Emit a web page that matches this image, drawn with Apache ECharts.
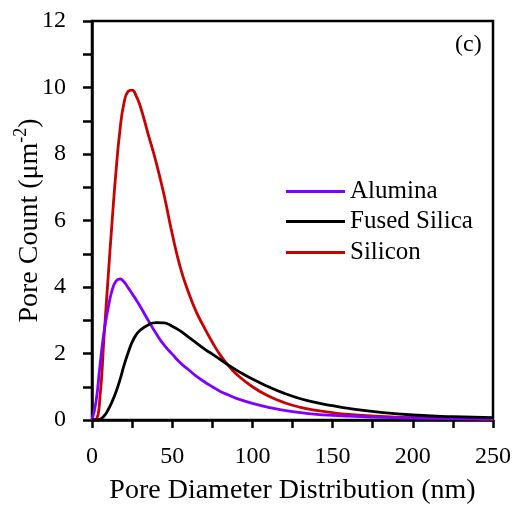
<!DOCTYPE html>
<html>
<head>
<meta charset="utf-8">
<script src="https://cdn.jsdelivr.net/npm/echarts@6/dist/echarts.min.js"></script>
<style>html,body{margin:0;padding:0;background:#fff;}#c{width:516px;height:514px;}</style>
</head>
<body>
<div id="c"></div>
<script>
const diameters = [0,2.5,5,7.5,10,12.5,15,17.5,20,22.5,25,27.5,30,35,40,45,50,55,60,65,70,75,80,85,90,100,110,120,130,140,150,160,180,200,225,250];
const alumina = [0,0.55,1.65,2.65,3.35,3.9,4.18,4.24,4.15,3.98,3.8,3.62,3.42,3.0,2.6,2.25,1.98,1.72,1.52,1.32,1.15,1.0,0.86,0.75,0.65,0.5,0.38,0.29,0.22,0.17,0.14,0.12,0.08,0.06,0.04,0.03];
const fusedSilica = [0,0,0.02,0.12,0.3,0.55,0.85,1.22,1.65,2.02,2.34,2.56,2.7,2.86,2.93,2.92,2.82,2.68,2.5,2.32,2.14,1.98,1.82,1.65,1.5,1.23,1.0,0.8,0.64,0.52,0.43,0.35,0.23,0.15,0.1,0.07];
const silicon = [0,0.02,0.7,2.5,4.25,5.95,7.5,8.75,9.55,9.88,9.92,9.75,9.45,8.6,7.75,6.75,5.6,4.6,3.86,3.25,2.78,2.34,1.95,1.64,1.38,1.0,0.72,0.52,0.38,0.29,0.22,0.17,0.11,0.07,0.04,0.02];
const seriesNames = ['Alumina','Fused Silica','Silicon'];
const xTicks = [0,50,100,150,200,250];
const yTicks = [0,2,4,6,8,10,12];

const FONT = 'Liberation Serif';
const pair = ys => diameters.map((x,i)=>[x, ys[i]]);
const colors = {'Alumina':'#7F00FF','Fused Silica':'#000000','Silicon':'#CC0000'};
const dataMap = {'Alumina':alumina,'Fused Silica':fusedSilica,'Silicon':silicon};

const chart = echarts.init(document.getElementById('c'), null, {renderer:'canvas'});
const legendTops = [174, 204, 235];
const option = {
  animation:false,
  backgroundColor:'#fff',
  grid:{left:92, right:23, top:21, bottom:94, containLabel:false, outerBoundsMode:'none',
        show:true, borderColor:'#000', borderWidth:2.5, backgroundColor:'transparent'},
  title:{text:'(c)', left:450, top:28, textStyle:{fontFamily:FONT, fontSize:24, fontWeight:'normal', color:'#000'}},
  legend: seriesNames.map((n,i)=>({
    data:[n], left:281, top:legendTops[i], icon:'rect', itemWidth:59, itemHeight:3,
    textStyle:{fontFamily:FONT, fontSize:25, color:'#000'}, selectedMode:false
  })),
  xAxis:{
    type:'value', min:xTicks[0], max:xTicks[xTicks.length-1], interval:50,
    name:'Pore Diameter Distribution (nm)', nameLocation:'middle', nameGap:57, nameMoveOverlap:false,
    nameTextStyle:{fontFamily:FONT, fontSize:28, color:'#000'},
    axisLine:{show:true, onZero:false, lineStyle:{color:'#000', width:2.5}},
    axisTick:{show:true, inside:false, length:8, lineStyle:{color:'#000', width:2.5}},
    minorTick:{show:true, splitNumber:2, length:8, lineStyle:{color:'#000', width:2.5}},
    axisLabel:{fontFamily:FONT, fontSize:24, color:'#000', margin:25},
    splitLine:{show:false}
  },
  yAxis:{
    type:'value', min:yTicks[0], max:yTicks[yTicks.length-1], interval:2,
    name:'{a|Pore Count (μm}{s|-2}{a|)}', nameLocation:'middle', nameGap:48, nameMoveOverlap:false,
    nameTextStyle:{fontFamily:FONT, fontSize:28, color:'#000',
      rich:{a:{fontFamily:FONT, fontSize:28, color:'#000', verticalAlign:'bottom'},
            s:{fontFamily:FONT, fontSize:18, color:'#000', verticalAlign:'top', padding:[0,0,14,0]}}},
    axisLine:{show:true, onZero:false, lineStyle:{color:'#000', width:2.5}},
    axisTick:{show:true, inside:false, length:9, lineStyle:{color:'#000', width:2.5}},
    minorTick:{show:true, splitNumber:2, length:9, lineStyle:{color:'#000', width:2.5}},
    axisLabel:{fontFamily:FONT, fontSize:24, color:'#000', margin:26},
    splitLine:{show:false}
  },
  series:['Silicon','Alumina','Fused Silica'].map(n=>({
    name:n, type:'line', data:pair(dataMap[n]), showSymbol:false, symbol:'none',
    smooth:true, color:colors[n],
    lineStyle:{color:colors[n], width:2.8}
  }))
};
chart.setOption(option);
</script>
</body>
</html>
